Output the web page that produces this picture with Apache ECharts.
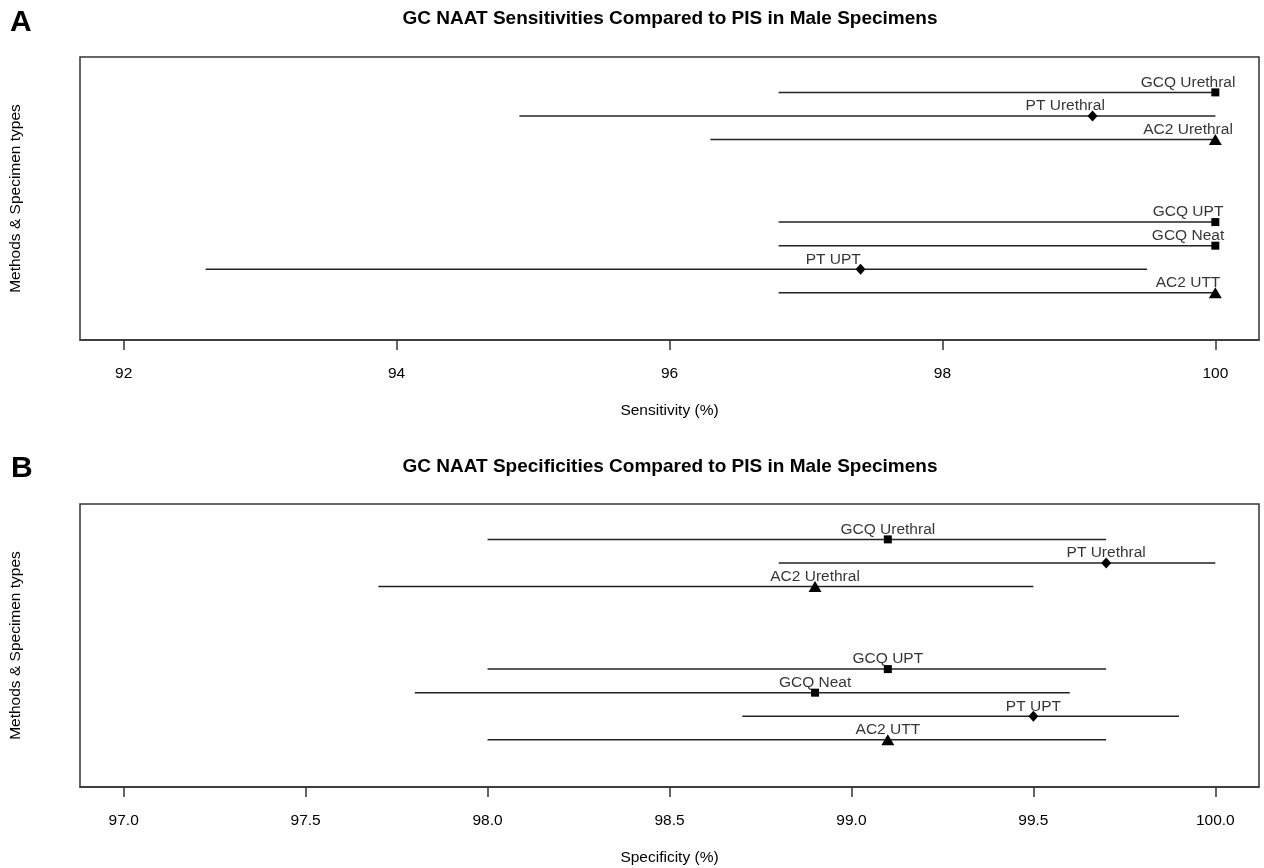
<!DOCTYPE html>
<html><head><meta charset="utf-8">
<script src="https://cdn.jsdelivr.net/npm/echarts@6/dist/echarts.min.js"></script>
<style>html,body{margin:0;padding:0;background:#fff}#c{width:1264px;height:868px}</style>
</head><body><div id="c"></div>
<script>
// ---- data ----
const rowLabels = ['GCQ Urethral', 'PT Urethral', 'AC2 Urethral', 'GCQ UPT', 'GCQ Neat', 'PT UPT', 'AC2 UTT'];
const sensPoint = [100, 99.1, 100, 100, 100, 97.4, 100];
const sensLow   = [96.8, 94.9, 96.3, 96.8, 96.8, 92.6, 96.8];
const sensHigh  = [100, 100, 100, 100, 100, 99.5, 100];
const specPoint = [99.1, 99.7, 98.9, 99.1, 98.9, 99.5, 99.1];
const specLow   = [98.0, 98.8, 97.7, 98.0, 97.8, 98.7, 98.0];
const specHigh  = [99.7, 100.0, 99.5, 99.7, 99.6, 99.9, 99.7];
const sensTicks = [92, 94, 96, 98, 100];
const specTicks = [97.0, 97.5, 98.0, 98.5, 99.0, 99.5, 100.0];

// ---- layout helpers ----
const FONT = '"Liberation Sans", Arial, Helvetica, sans-serif';
const INK = '#000';
// rows from top to bottom, with a gap between the urethral group and the rest
function rowPos(i) { return 9.5 - i - (i >= 3 ? 2.5 : 0); }
function symbolFor(name) {
  const m = name.split(' ')[0];
  if (m === 'GCQ') return { symbol: 'rect', symbolSize: 8 };
  if (m === 'PT') return { symbol: 'diamond', symbolSize: [10, 11] };
  return { symbol: 'triangle', symbolSize: [13, 11] };
}

function panelSeries(idx, low, high, pt, labelShift) {
  return [
    {
      type: 'custom', xAxisIndex: idx, yAxisIndex: idx, silent: true, z: 2,
      data: rowLabels.map((n, i) => [low[i], high[i], rowPos(i)]),
      encode: { x: [0, 1], y: 2 },
      renderItem: (params, api) => {
        const a = api.coord([api.value(0), api.value(2)]);
        const b = api.coord([api.value(1), api.value(2)]);
        return { type: 'line', shape: { x1: a[0], y1: a[1], x2: b[0], y2: b[1] },
                 style: { stroke: '#222', lineWidth: 1.5 } };
      }
    },
    {
      type: 'scatter', xAxisIndex: idx, yAxisIndex: idx, z: 3, silent: true,
      itemStyle: { color: '#000', opacity: 1 },
      data: rowLabels.map((n, i) => Object.assign({ name: n, value: [pt[i], rowPos(i)] }, symbolFor(n)))
    },
    {
      type: 'scatter', xAxisIndex: idx, yAxisIndex: idx, z: 4, silent: true,
      symbolSize: 0,
      label: { show: true, position: 'top', distance: 2, formatter: '{b}',
               fontSize: 15.5, fontFamily: FONT, color: INK },
      data: rowLabels.map((n, i) => ({ name: n, value: [pt[i] - labelShift, rowPos(i)] }))
    }
  ];
}

function xAxisFor(idx, min, max, ticks, name, dec) {
  return {
    type: 'value', gridIndex: idx, min: min, max: max,
    name: name, nameLocation: 'middle', nameGap: 63,
    nameTextStyle: { fontSize: 15.5, fontFamily: FONT, color: INK },
    axisLine: { show: true, onZero: false, lineStyle: { color: '#333', width: 1.5 } },
    axisTick: { show: true, length: 10, inside: false, customValues: ticks,
                lineStyle: { color: '#333', width: 1.5 } },
    axisLabel: { show: true, margin: 26, customValues: ticks, fontSize: 15.5, fontFamily: FONT, color: INK,
                 formatter: v => Number(v).toFixed(dec) },
    splitLine: { show: false }
  };
}
function yAxisFor(idx) {
  return {
    type: 'value', gridIndex: idx, min: -1, max: 11,
    name: 'Methods & Specimen types', nameLocation: 'middle', nameRotate: 90, nameGap: 56,
    nameTextStyle: { fontSize: 15.5, fontFamily: FONT, color: INK },
    axisLine: { show: false }, axisTick: { show: false }, axisLabel: { show: false },
    splitLine: { show: false }
  };
}

const chart = echarts.init(document.getElementById('c'));
chart.setOption({
  backgroundColor: '#fff',
  animation: false,
  grid: [
    { left: 80, right: 5, top: 57, height: 283, show: true, borderColor: '#333', borderWidth: 1.5, outerBoundsMode: 'none' },
    { left: 80, right: 5, top: 504, height: 283, show: true, borderColor: '#333', borderWidth: 1.5, outerBoundsMode: 'none' }
  ],
  xAxis: [
    xAxisFor(0, 91.68, 100.32, sensTicks, 'Sensitivity (%)', 0),
    xAxisFor(1, 96.88, 100.12, specTicks, 'Specificity (%)', 1)
  ],
  yAxis: [yAxisFor(0), yAxisFor(1)],
  graphic: [
    { type: 'text', x: 10, y: 23, style: { text: 'A', font: 'bold 30px ' + FONT, fill: '#000', textVerticalAlign: 'middle' } },
    { type: 'text', x: 11, y: 469, style: { text: 'B', font: 'bold 30px ' + FONT, fill: '#000', textVerticalAlign: 'middle' } },
    { type: 'text', x: 670, y: 19, style: { text: 'GC NAAT Sensitivities Compared to PIS in Male Specimens', font: 'bold 19px ' + FONT, fill: '#000', textAlign: 'center', textVerticalAlign: 'middle' } },
    { type: 'text', x: 670, y: 467, style: { text: 'GC NAAT Specificities Compared to PIS in Male Specimens', font: 'bold 19px ' + FONT, fill: '#000', textAlign: 'center', textVerticalAlign: 'middle' } }
  ],
  series: [].concat(
    panelSeries(0, sensLow, sensHigh, sensPoint, 0.2),
    panelSeries(1, specLow, specHigh, specPoint, 0)
  )
});
</script></body></html>
